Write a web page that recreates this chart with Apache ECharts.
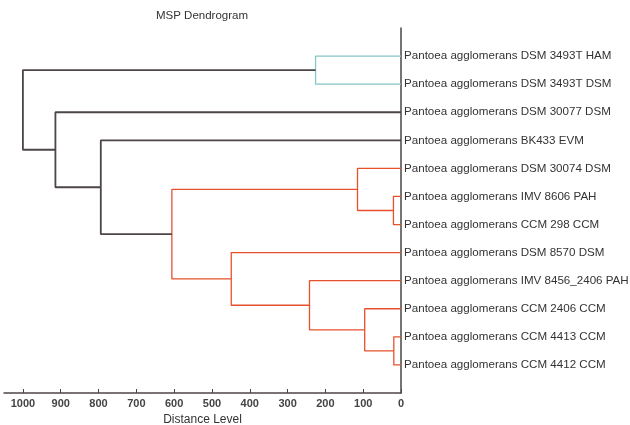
<!DOCTYPE html>
<html>
<head>
<meta charset="utf-8">
<script src="https://cdn.jsdelivr.net/npm/echarts@6/dist/echarts.min.js"></script>
<style>
  html, body { margin: 0; padding: 0; background: #fff; }
  #chart { width: 630px; height: 425px; }
</style>
</head>
<body>
<div id="chart"></div>
<script>
// leaf names, top to bottom
const leaves = [
  'Pantoea agglomerans DSM 3493T HAM',
  'Pantoea agglomerans DSM 3493T DSM',
  'Pantoea agglomerans DSM 30077 DSM',
  'Pantoea agglomerans BK433 EVM',
  'Pantoea agglomerans DSM 30074 DSM',
  'Pantoea agglomerans IMV 8606 PAH',
  'Pantoea agglomerans CCM 298 CCM',
  'Pantoea agglomerans DSM 8570 DSM',
  'Pantoea agglomerans IMV 8456_2406 PAH',
  'Pantoea agglomerans CCM 2406 CCM',
  'Pantoea agglomerans CCM 4413 CCM',
  'Pantoea agglomerans CCM 4412 CCM'
]

// linkage: [child a, child b, distance]; leaves are 0..11, merged nodes 12, 13, ...
const mergeA = [0, 5, 10, 4, 9, 8, 7, 15, 3, 2, 12]
const mergeB = [1, 6, 11, 13, 14, 16, 17, 18, 19, 20, 21]
const mergeDist = [226, 20, 19, 115, 96, 242, 449, 606, 794, 914, 1000]

const xTicks = [0, 100, 200, 300, 400, 500, 600, 700, 800, 900, 1000]
const colorThreshold = 700

// node positions: leaves sit at their index, merged nodes halfway between children
const n = leaves.length
const nodeY = leaves.map((_, i) => i)
const nodeX = leaves.map(() => 0)
mergeDist.forEach((d, k) => {
  nodeY.push((nodeY[mergeA[k]] + nodeY[mergeB[k]]) / 2)
  nodeX.push(d)
})

// cluster colours like matlab: each top-most link under the threshold starts a group
const palette = ['#e8502c', '#84c6c9']
const linkColor = mergeDist.map(() => '#4d4646')
let group = 0
for (let k = mergeDist.length - 1; k >= 0; k--) {
  if (mergeDist[k] >= colorThreshold) continue
  let parent = mergeA.indexOf(n + k)
  if (parent < 0) parent = mergeB.indexOf(n + k)
  if (parent >= 0 && mergeDist[parent] < colorThreshold) {
    linkColor[k] = linkColor[parent]
  } else {
    linkColor[k] = palette[group % palette.length]
    group++
  }
}

const series = mergeDist.map((d, k) => {
  const a = mergeA[k], b = mergeB[k]
  const colored = d < colorThreshold
  return {
    type: 'line',
    symbol: 'none',
    silent: true,
    animation: false,
    lineStyle: { color: linkColor[k], width: colored ? 1.3 : 1.8 },
    data: [
      [nodeX[a], nodeY[a]],
      [d, nodeY[a]],
      [d, nodeY[b]],
      [nodeX[b], nodeY[b]]
    ]
  }
})

const chart = echarts.init(document.getElementById('chart'))
chart.setOption({
  backgroundColor: '#fff',
  animation: false,
  title: {
    text: 'MSP Dendrogram',
    left: 151,
    top: 5,
    textStyle: { fontFamily: 'Liberation Sans', fontSize: 11.5, fontWeight: 'normal', color: '#333' }
  },
  grid: { left: 4, right: 229, top: 28, bottom: 32, outerBoundsMode: 'none', containLabel: false },
  xAxis: {
    type: 'value',
    min: 0,
    max: 1050,
    inverse: true,
    name: 'Distance Level',
    nameLocation: 'middle',
    nameGap: 20,
    nameTextStyle: { fontFamily: 'Liberation Sans', fontSize: 12, color: '#333' },
    splitLine: { show: false },
    axisLine: { show: true, onZero: false, lineStyle: { color: '#4d4646', width: 1.5 } },
    axisTick: { show: true, inside: true, length: 4, customValues: xTicks, lineStyle: { color: '#4d4646' } },
    axisLabel: {
      customValues: xTicks,
      formatter: v => String(v),
      margin: 5,
      fontFamily: 'Liberation Sans',
      fontSize: 11,
      fontWeight: 'bold',
      color: '#444'
    }
  },
  yAxis: {
    type: 'value',
    min: -1,
    max: 12,
    inverse: true,
    position: 'right',
    splitLine: { show: false },
    axisLine: { show: true, onZero: false, lineStyle: { color: '#4d4646', width: 1.5 } },
    axisTick: { show: false },
    axisLabel: {
      customValues: leaves.map((_, i) => i),
      formatter: v => leaves[v] || '',
      margin: 3,
      fontFamily: 'Liberation Sans',
      fontSize: 11.6,
      color: '#333'
    }
  },
  series: series
})
</script>
</body>
</html>
